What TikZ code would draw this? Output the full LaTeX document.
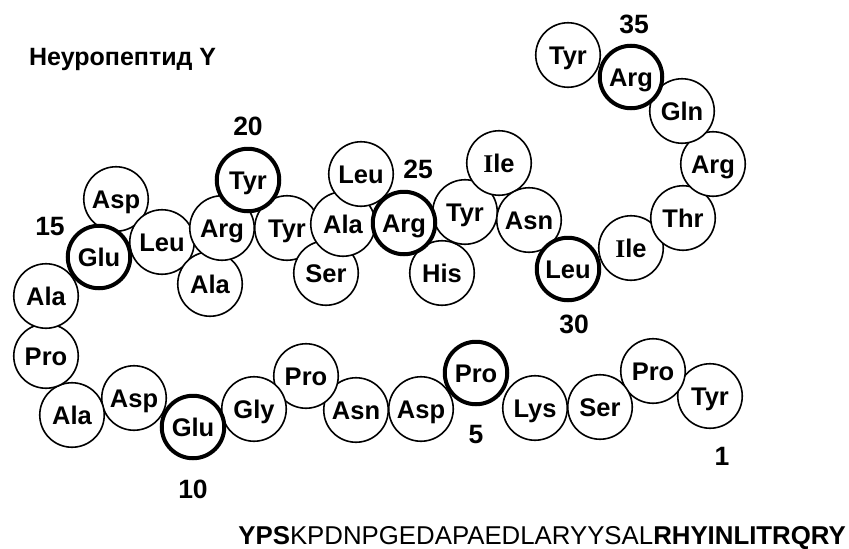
\documentclass[tikz,border=0pt]{standalone}
\usepackage{fontspec}
\setmainfont{Liberation Sans}
\newfontfamily\serifI{Liberation Serif}
\begin{document}
\begin{tikzpicture}[x=1pt,y=-1pt,
  aa/.style={circle,draw,fill=white,line width=1.6pt,minimum size=64.5pt,inner sep=0pt,
    text height=18.3pt,text depth=0pt,font=\fontsize{25.5}{25.5}\selectfont\bfseries},
  key/.style={aa,line width=4pt,minimum size=62.5pt},
  num/.style={anchor=base,inner sep=0pt,font=\fontsize{26.5}{26.5}\selectfont\bfseries},
]
\useasboundingbox (0,0) rectangle (849,549);
% thin residues
\node[aa] (r1) at (710,396) {Tyr};
\node[aa] (r2) at (653,371) {Pro};
\node[aa] (r3) at (600,407) {Ser};
\node[aa] (r4) at (535,408) {Lys};
\node[aa] (r6) at (421,409) {Asp};
\node[aa] (r7) at (356,410) {Asn};
\node[aa] (r8) at (306,376) {Pro};
\node[aa] (r9) at (254,409) {Gly};
\node[aa] (r11) at (134,398) {Asp};
\node[aa] (r12) at (72,415) {Ala};
\node[aa] (r13) at (46,356) {Pro};
\node[aa] (r14) at (46,296) {Ala};
\node[aa] (r16) at (116,199) {Asp};
\node[aa] (r17) at (162,242) {Leu};
\node[aa] (r18) at (210,284) {Ala};
\node[aa] (r19) at (222,228) {Arg};
\node[aa] (r21) at (287,228) {Tyr};
\node[aa] (r22) at (326,273) {Ser};
\node[aa] (r23) at (343,224) {Ala};
\node[aa] (r24) at (361,174) {Leu};
\node[aa] (r26) at (442,273) {His};
\node[aa] (r27) at (465,212) {Tyr};
\node[aa] (r28) at (499,163) {{\serifI I}le};
\node[aa] (r29) at (529,220) {Asn};
\node[aa] (r31) at (631,248) {{\serifI I}le};
\node[aa] (r32) at (683,218) {Thr};
\node[aa] (r33) at (713,164) {Arg};
\node[aa] (r34) at (682,111) {Gln};
\node[aa] (r36) at (568,55) {Tyr};
% highlighted residues
\node[key] (r5) at (476,373) {Pro};
\node[key] (r10) at (193,427) {Glu};
\node[key] (r15) at (99,257) {Glu};
\node[key] (r20) at (248,180) {Tyr};
\node[key] (r25) at (404,223) {Arg};
\node[key] (r30) at (568,269) {Leu};
\node[key] (r35) at (631,77) {Arg};
% position numbers
\node[num] (n1) at (722,465) {1};
\node[num] (n5) at (476,443) {5};
\node[num] (n10) at (193,498) {10};
\node[num] (n15) at (50,235) {15};
\node[num] (n20) at (248,135) {20};
\node[num] (n25) at (418,178) {25};
\node[num] (n30) at (574,333) {30};
\node[num] (n35) at (634,33) {35};
% title and sequence
\node[anchor=base west,inner sep=0pt,font=\fontsize{25}{25}\selectfont\bfseries] (title) at (29,65) {Неуропептид Y};
\node[anchor=base east,inner sep=0pt,font=\fontsize{25.8}{25.8}\selectfont] (seq) at (846,544)
  {\textbf{YPS}KPDNPGEDAPAEDLARYYSAL\textbf{RHYINLITRQRY}};
\end{tikzpicture}
\end{document}
